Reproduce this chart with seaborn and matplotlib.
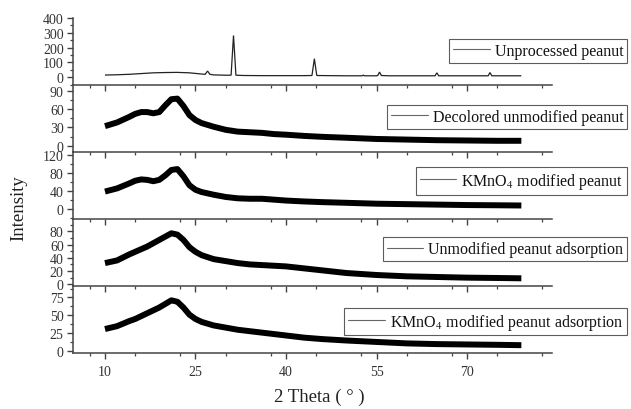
import numpy as np
import pandas as pd
import matplotlib
matplotlib.use("Agg")
import matplotlib.pyplot as plt
import seaborn as sns
from matplotlib.ticker import MultipleLocator

sns.set_theme(style="ticks")
plt.rcParams['font.family'] = ['Liberation Serif', 'DejaVu Serif']
plt.rcParams['mathtext.fontset'] = 'stix'

labels = ["Unprocessed peanut",
          "Decolored unmodified peanut",
          r"KMnO$_4$ modified peanut",
          "Unmodified peanut adsorption",
          r"KMnO$_4$ modified peanut adsorption"]

# Panel 1: unprocessed peanut (sharp crystalline peaks)
x_raw = [10, 12, 14, 16, 18, 20, 22, 24, 26, 26.6, 27.0, 27.4, 28, 30, 30.9, 31.3, 31.7,
         33, 36, 40, 43, 44.3, 44.7, 45.1, 47, 50, 52.6, 52.8, 53.0, 55, 55.2, 55.5, 55.8,
         57, 60, 64.7, 65.0, 65.3, 68, 72, 73.5, 73.8, 74.1, 76, 79]
y_raw = [15, 17, 20, 25, 30, 32, 33, 30, 22, 20, 42, 20, 16, 14, 14, 282, 14,
         12, 11, 11, 11, 12, 125, 12, 11, 10, 10, 14, 10, 10, 12, 35, 12,
         10, 10, 10, 30, 10, 10, 10, 10, 32, 10, 10, 10]

# Panels 2-5: amorphous (band centre)
x_am = [10, 12, 14, 15, 16, 17, 18, 19, 20, 21, 22, 23, 24, 25, 26, 28, 30, 32, 34, 36,
        38, 40, 43, 46, 50, 55, 60, 65, 70, 75, 79]
y_decol = [32, 38, 47, 52, 55, 55, 53, 55, 66, 76, 77, 65, 50, 42, 37, 31, 26, 23, 22, 21,
           19, 18, 16, 14.5, 13, 11, 10, 9, 8.5, 8, 8]
y_kmno4 = [38, 45, 56, 62, 65, 64, 61, 64, 74, 86, 88, 72, 52, 42, 37, 31, 26, 23, 22, 22,
           20, 18, 16, 14.5, 13, 11, 10, 9, 8, 7.5, 7]
y_unads = [32, 36, 45, 49, 53, 57, 62, 67, 72, 77, 75, 67, 56, 49, 44, 38, 35, 32, 30, 29,
           28, 27, 24, 21, 17, 14, 12, 11, 10, 9.5, 9]
y_kads = [31, 35, 42, 45, 49, 53, 57, 61, 66, 71, 69, 61, 51, 45, 41, 36, 33, 30, 28, 26,
          24, 22, 19, 17, 15, 13, 11, 10, 9.5, 9, 8.5]

yticks = [[0, 100, 200, 300, 400], [0, 30, 60, 90], [0, 40, 80, 120],
          [0, 20, 40, 60, 80], [0, 25, 50, 75]]
ylims = [(-52, 400), (-10.3, 99.3), (-23, 126), (-2.6, 98.6), (-2.4, 91)]
xticks = [10, 25, 40, 55, 70]

series = [(x_raw, y_raw), (x_am, y_decol), (x_am, y_kmno4), (x_am, y_unads), (x_am, y_kads)]
legend_y = [0.873, 0.713, 0.557, 0.39, 0.2134]

fig, axes = plt.subplots(5, 1, sharex=True, figsize=(6.31, 4.10), dpi=100,
                         gridspec_kw=dict(hspace=0))
fig.subplots_adjust(left=0.1152, right=0.875, bottom=0.1366, top=0.9537)
fig.patch.set_facecolor('white')

spine_c = '#444444'
for i, ax in enumerate(axes):
    xs, ys = series[i]
    df = pd.DataFrame({"x": xs, "y": ys})
    lw = 0.9 if i == 0 else 4.3
    col = '#222222' if i == 0 else 'black'
    sns.lineplot(data=df, x="x", y="y", ax=ax, color=col, linewidth=lw,
                 estimator=None, sort=False, legend=False)
    for ln in ax.get_lines():
        ln.set_solid_capstyle('butt')
        ln.set_solid_joinstyle('miter' if i == 0 else 'round')
    ax.set_xlim(4.65, 84.1)
    ax.set_ylim(*ylims[i])
    ax.set_yticks(yticks[i])
    step = yticks[i][1] - yticks[i][0]
    ax.yaxis.set_minor_locator(MultipleLocator(step / 2))
    ax.set_xticks(xticks)
    ax.xaxis.set_minor_locator(MultipleLocator(7.5))
    ax.set_xlabel("")
    ax.set_ylabel("")
    ax.set_facecolor('none')
    for s in ['top', 'right']:
        ax.spines[s].set_visible(False)
    for s in ['left', 'bottom']:
        ax.spines[s].set_color(spine_c)
        ax.spines[s].set_linewidth(1.1)
        ax.spines[s].set_zorder(5)
    ax.tick_params(axis='both', which='major', direction='out', length=4.5, width=1.0,
                   color=spine_c, labelsize=10, labelcolor='#333333', pad=2)
    ax.tick_params(axis='both', which='minor', direction='out', length=2.5, width=0.9,
                   color=spine_c)
    if i < 4:
        ax.tick_params(axis='x', which='both', labelbottom=False)
    else:
        ax.tick_params(axis='x', which='major', pad=4)
    h, = ax.plot([], [], color='#666666', linewidth=0.8)
    leg = ax.legend([h], [labels[i]], loc='center right',
                    bbox_to_anchor=(0.994, legend_y[i]), bbox_transform=fig.transFigure,
                    fontsize=11.5, frameon=True, fancybox=False, handlelength=2.3,
                    handletextpad=0.3, borderpad=0.25, borderaxespad=0)
    leg.get_frame().set_edgecolor('#333333')
    leg.get_frame().set_linewidth(0.8)
    for t in leg.get_texts():
        t.set_color('#111111')

fig.text(0.030, 0.493, "Intensity", rotation=90, ha='center', va='center',
         fontsize=13.5, color='#222222')
fig.text(0.5055, 0.032, "2 Theta ( ° )", ha='center', va='center',
         fontsize=13.5, color='#222222')

fig.savefig("out.png", dpi=100, facecolor='white')
